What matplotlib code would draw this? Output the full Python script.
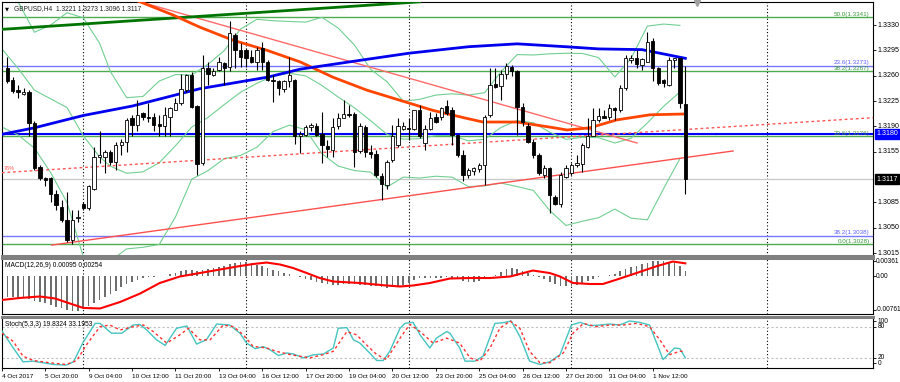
import matplotlib.pyplot as plt

# ---- candles (GBPUSD H4), bar index 0 = 4 Oct 16:00 ----
opens = [1.3270, 1.3254, 1.3240, 1.3235, 1.3238, 1.3194, 1.3134, 1.3118, 1.3118, 1.3097,
         1.3079, 1.3060, 1.3033, 1.3063, 1.3083, 1.3077, 1.3104, 1.3147, 1.3148, 1.3155,
         1.3141, 1.3164, 1.3169, 1.3201, 1.3192, 1.3208, 1.3203, 1.3203, 1.3193, 1.3190,
         1.3203, 1.3213, 1.3222, 1.3240, 1.3261, 1.3218, 1.3139, 1.3270, 1.3261, 1.3268,
         1.3277, 1.3272, 1.3316, 1.3296, 1.3296, 1.3286, 1.3279, 1.3298, 1.3279, 1.3254,
         1.3252, 1.3241, 1.3252, 1.3254, 1.3176, 1.3178, 1.3189, 1.3190, 1.3180, 1.3163,
         1.3158, 1.3190, 1.3202, 1.3207, 1.3207, 1.3156, 1.3189, 1.3155, 1.3152, 1.3122,
         1.3109, 1.3143, 1.3164, 1.3187, 1.3188, 1.3186, 1.3213, 1.3167, 1.3187, 1.3203,
         1.3203, 1.3218, 1.3213, 1.3178, 1.3150, 1.3123, 1.3129, 1.3131, 1.3137, 1.3206,
         1.3249, 1.3246, 1.3263, 1.3272, 1.3267, 1.3217, 1.3190, 1.3169, 1.3150, 1.3123,
         1.3132, 1.3093, 1.3083, 1.3120, 1.3125, 1.3137, 1.3138, 1.3162, 1.3176, 1.3199,
         1.3204, 1.3203, 1.3215, 1.3213, 1.3243, 1.3282, 1.3285, 1.3275, 1.3279, 1.3308,
         1.3270, 1.3254, 1.3247, 1.3282, 1.3284, 1.3221]
highs = [1.3286, 1.3258, 1.3247, 1.3243, 1.3240, 1.3197, 1.3136, 1.3120, 1.3120, 1.3102,
         1.3088, 1.3100, 1.3074, 1.3074, 1.3086, 1.3109, 1.3162, 1.3183, 1.3157, 1.3157,
         1.3169, 1.3173, 1.3201, 1.3206, 1.3226, 1.3210, 1.3222, 1.3208, 1.3206, 1.3217,
         1.3217, 1.3229, 1.3263, 1.3262, 1.3265, 1.3219, 1.3289, 1.3279, 1.3270, 1.3286,
         1.3279, 1.3335, 1.3319, 1.3305, 1.3298, 1.3296, 1.3300, 1.3307, 1.3282, 1.3261,
         1.3254, 1.3254, 1.3286, 1.3256, 1.3183, 1.3192, 1.3195, 1.3194, 1.3210, 1.3171,
         1.3201, 1.3208, 1.3226, 1.3219, 1.3210, 1.3194, 1.3192, 1.3164, 1.3157, 1.3125,
         1.3143, 1.3192, 1.3201, 1.3196, 1.3201, 1.3213, 1.3220, 1.3192, 1.3210, 1.3208,
         1.3217, 1.3226, 1.3217, 1.3180, 1.3157, 1.3132, 1.3134, 1.3139, 1.3206, 1.3270,
         1.3270, 1.3268, 1.3277, 1.3275, 1.3268, 1.3222, 1.3194, 1.3173, 1.3153, 1.3137,
         1.3134, 1.3095, 1.3127, 1.3137, 1.3139, 1.3150, 1.3167, 1.3201, 1.3215, 1.3215,
         1.3213, 1.3221, 1.3217, 1.3247, 1.3289, 1.3289, 1.3296, 1.3285, 1.3321, 1.3312,
         1.3272, 1.3256, 1.3286, 1.3285, 1.3285, 1.3273]
lows = [1.3250, 1.3236, 1.3229, 1.3234, 1.3176, 1.3130, 1.3116, 1.3107, 1.3086, 1.3074,
        1.3058, 1.3030, 1.3028, 1.3058, 1.3075, 1.3075, 1.3102, 1.3139, 1.3125, 1.3136,
        1.3130, 1.3150, 1.3155, 1.3176, 1.3183, 1.3199, 1.3196, 1.3183, 1.3176, 1.3176,
        1.3176, 1.3213, 1.3220, 1.3238, 1.3215, 1.3123, 1.3137, 1.3247, 1.3260, 1.3266,
        1.3247, 1.3266, 1.3270, 1.3272, 1.3272, 1.3277, 1.3268, 1.3268, 1.3252, 1.3224,
        1.3233, 1.3238, 1.3245, 1.3166, 1.3153, 1.3176, 1.3183, 1.3176, 1.3139, 1.3148,
        1.3148, 1.3187, 1.3201, 1.3203, 1.3134, 1.3153, 1.3148, 1.3146, 1.3120, 1.3088,
        1.3104, 1.3141, 1.3162, 1.3185, 1.3171, 1.3185, 1.3174, 1.3157, 1.3185, 1.3194,
        1.3199, 1.3206, 1.3164, 1.3148, 1.3114, 1.3118, 1.3123, 1.3127, 1.3109, 1.3203,
        1.3243, 1.3226, 1.3256, 1.3259, 1.3178, 1.3190, 1.3167, 1.3146, 1.3123, 1.3118,
        1.3070, 1.3081, 1.3079, 1.3118, 1.3123, 1.3134, 1.3127, 1.3160, 1.3176, 1.3196,
        1.3201, 1.3199, 1.3199, 1.3210, 1.3240, 1.3277, 1.3270, 1.3268, 1.3279, 1.3252,
        1.3247, 1.3245, 1.3246, 1.3270, 1.3215, 1.3096]
closes = [1.3252, 1.3239, 1.3238, 1.3237, 1.3194, 1.3132, 1.3118, 1.3116, 1.3097, 1.3081,
          1.3060, 1.3033, 1.3060, 1.3065, 1.3077, 1.3107, 1.3148, 1.3150, 1.3155, 1.3141,
          1.3164, 1.3169, 1.3199, 1.3192, 1.3206, 1.3203, 1.3202, 1.3192, 1.3190, 1.3206,
          1.3215, 1.3222, 1.3241, 1.3261, 1.3217, 1.3138, 1.3270, 1.3262, 1.3267, 1.3279,
          1.3270, 1.3319, 1.3296, 1.3286, 1.3284, 1.3279, 1.3296, 1.3279, 1.3254, 1.3252,
          1.3243, 1.3252, 1.3261, 1.3176, 1.3180, 1.3189, 1.3192, 1.3178, 1.3164, 1.3159,
          1.3189, 1.3201, 1.3207, 1.3206, 1.3155, 1.3190, 1.3154, 1.3152, 1.3123, 1.3110,
          1.3141, 1.3176, 1.3190, 1.3190, 1.3186, 1.3212, 1.3176, 1.3187, 1.3202, 1.3196,
          1.3216, 1.3208, 1.3178, 1.3150, 1.3123, 1.3130, 1.3132, 1.3137, 1.3203, 1.3247,
          1.3245, 1.3262, 1.3273, 1.3266, 1.3217, 1.3196, 1.3169, 1.3150, 1.3125, 1.3133,
          1.3095, 1.3083, 1.3123, 1.3132, 1.3137, 1.3139, 1.3164, 1.3176, 1.3199, 1.3204,
          1.3202, 1.3216, 1.3213, 1.3243, 1.3284, 1.3285, 1.3276, 1.3283, 1.3307, 1.3270,
          1.3250, 1.3250, 1.3282, 1.3284, 1.3222, 1.3117]

# moving averages, read at sample bars
blue_ma_x = [-1, 5, 14, 23, 35.5, 48, 54, 63, 74, 85, 94, 103, 109, 117, 125]
blue_ma_y = [1.3179, 1.3188, 1.3205, 1.3218, 1.3242, 1.3258, 1.3269, 1.3279, 1.3291,
             1.3300, 1.3304, 1.3300, 1.3297, 1.3296, 1.3284]
orange_ma_x = [22, 24.5, 30.5, 35.5, 41.6, 47.9, 54, 60, 66.3, 72.4, 78.5, 84.7, 87.7,
               93.9, 100, 103.2, 107.4, 112.4, 118.5, 124.5]
orange_ma_y = [1.3368, 1.3362, 1.3344, 1.3327, 1.3309, 1.3295, 1.3279, 1.3258, 1.3240,
               1.3226, 1.3212, 1.3201, 1.3196, 1.3196, 1.3189, 1.3185, 1.3188, 1.3199,
               1.3206, 1.3207]

# Bollinger bands (20) read at sample bars
bb_x = [-1, 2, 5, 8, 11, 14, 17, 19, 22, 25, 28, 31, 34, 37, 40, 43, 46, 49, 52, 55, 58,
        61, 64, 67, 70, 73, 76, 79, 82, 85, 88, 91, 94, 97, 100, 103, 106, 109, 112, 115,
        118, 121, 124]
bb_upper = [1.3405, 1.3362, 1.3320, 1.3330, 1.3347, 1.3340, 1.3305, 1.32658, 1.32296,
            1.32313, 1.32526, 1.32616, 1.32610, 1.32757, 1.32947, 1.33244, 1.33379, 1.33359,
            1.33349, 1.33340, 1.33406, 1.33258, 1.33023, 1.32687, 1.32517, 1.32247, 1.32273,
            1.32332, 1.32350, 1.32332, 1.32365, 1.32653, 1.32892, 1.32886, 1.32902, 1.32910,
            1.32907, 1.32850, 1.32582, 1.32840, 1.33285, 1.33313, 1.33295]
bb_mid = [1.3297, 1.3270, 1.3240, 1.3228, 1.3216, 1.3177, 1.3148, 1.31350, 1.31252,
          1.31271, 1.31397, 1.31632, 1.31890, 1.32023, 1.32201, 1.32371, 1.32495, 1.32594,
          1.32633, 1.32597, 1.32465, 1.32305, 1.32156, 1.31977, 1.31790, 1.31723, 1.31730,
          1.31772, 1.31774, 1.31700, 1.31722, 1.31885, 1.31980, 1.31950, 1.31820, 1.31721,
          1.31748, 1.31744, 1.31670, 1.31736, 1.31947, 1.32177, 1.32375]
bb_lower = [1.3189, 1.3178, 1.3160, 1.3126, 1.3085, 1.3010, 1.2991, 1.30042, 1.30207,
            1.30229, 1.30268, 1.30648, 1.31170, 1.31288, 1.31454, 1.31498, 1.31611, 1.31828,
            1.31917, 1.31854, 1.31523, 1.31352, 1.31289, 1.31267, 1.31062, 1.31199, 1.31186,
            1.31211, 1.31198, 1.31068, 1.31078, 1.31117, 1.31068, 1.31014, 1.30737, 1.30531,
            1.30589, 1.30638, 1.30757, 1.30632, 1.30609, 1.31041, 1.31454]

# trend lines (two points each: bar, price)
green_trend = ([-1, 76], [1.3324, 1.3362])
red_down = ([20, 116.1], [1.33716, 1.3167])
red_up = ([8.2, 133.8], [1.3026, 1.3156])
red_dotted = ([-1, 159.6], [1.3126, 1.3202])

# fibonacci levels
fib_green = [(50.0, 1.3341), (38.2, 1.3267), (23.6, 1.3176), (0.0, 1.3028)]
fib_blue = [(23.6, 1.3273), (38.2, 1.3038)]

price_ticks = [1.3330, 1.3295, 1.3260, 1.3225, 1.3190, 1.3155, 1.3085, 1.3050, 1.3015]

# MACD(12,26,9)
macd_hist = [-0.00415, -0.00415, -0.00435, -0.0045, -0.0047, -0.0050, -0.0052, -0.0055, -0.0058, -0.0062,
             -0.0065, -0.0069, -0.0071, -0.0071, -0.0065, -0.0060, -0.0055, -0.0048, -0.0043, -0.0037,
             -0.0030, -0.0023, -0.0016, -0.0011, -0.0007, -0.0004, -0.0002, -0.0001, 0.0000, 0.0001,
             0.0004, 0.0007, 0.0011, 0.0013, 0.0012, 0.0010, 0.0013, 0.0015, 0.0016, 0.0018,
             0.0020, 0.0024, 0.0027, 0.0029, 0.0028, 0.0026, 0.0023, 0.0020, 0.0016, 0.0013,
             0.0010, 0.0006, 0.0004, 0.0000, -0.0002, -0.0005, -0.0008, -0.0011, -0.0014, -0.0016,
             -0.0018, -0.0017, -0.0016, -0.0016, -0.0016, -0.0017, -0.0018, -0.0019, -0.0021, -0.0023,
             -0.0024, -0.0023, -0.0021, -0.0018, -0.0014, -0.0007, -0.0003, -0.0003, -0.0003, -0.0004,
             -0.0003, -0.0001, -0.0003, -0.0005, -0.0009, -0.0011, -0.0011, -0.0010, -0.0003, 0.0001,
             0.0003, 0.0008, 0.0014, 0.0016, 0.0014, 0.0011, 0.0007, 0.0003, -0.0001, -0.0005,
             -0.0012, -0.0016, -0.0019, -0.0021, -0.0021, -0.0018, -0.0014, -0.0010, -0.0005, -0.0001,
             0.0001, 0.0003, 0.0005, 0.0010, 0.0014, 0.0018, 0.0021, 0.0024, 0.0027, 0.0030,
             0.0031, 0.0030, 0.0029, 0.0027, 0.0020, 0.00095]
macd_sig_x = [-1, 2.3, 6, 8.8, 14, 17.1, 20.8, 24.5, 28.1, 31.8, 35.5, 39.2, 42.9, 45.3, 47.8,
              50.3, 52.7, 55.2, 57.6, 60.1, 65, 69.9, 72.4, 74.8, 77.9, 81.6, 85.3, 89, 92.7,
              96.9, 100, 101.9, 104.3, 107.4, 109.8, 112.4, 116, 119.8, 122.7, 125]
macd_sig_y = [-0.0048, -0.0044, -0.0041, -0.0045, -0.0064, -0.0065, -0.0052, -0.0035, -0.0014,
              -0.0001, 0.0006, 0.0013, 0.0020, 0.0024, 0.0027, 0.0023, 0.0016, 0.0006, -0.0004,
              -0.0011, -0.0014, -0.0019, -0.0021, -0.0019, -0.0014, -0.0005, -0.0004, -0.0004,
              -0.0001, 0.0011, 0.0006, -0.0001, -0.0014, -0.0016, -0.0016, -0.0007, 0.0006,
              0.0020, 0.0029, 0.00254]
macd_labels = ["0.00361", "0.00", "-0.00761"]
macd_label_at = [0.0030, 0.0, -0.0068]

# Stochastic(5,3,3)
stoch_k_x = [-1, 1.1, 2.9, 4.8, 6.6, 8.5, 10.9, 12.2, 14, 16.2, 17.1, 19.2, 21.1, 23.2, 24.4,
             25.7, 27.5, 29.1, 31.2, 33.1, 34.9, 36.7, 38.6, 41, 42.9, 44.1, 45.7, 47.2, 48.4,
             50, 51.5, 52.7, 54.6, 56.4, 58.3, 60.1, 61, 62.6, 63.8, 65, 66.2, 68.1, 69.3, 70.5,
             72.4, 73.3, 74.8, 76.1, 77.9, 79.1, 81, 81.6, 83.4, 84.4, 86.2, 87.7, 89.9, 91.4,
             92.9, 94.5, 96.3, 98.2, 100, 101.9, 104, 105.6, 107.4, 109.2, 111.1, 112.9, 114.7,
             116.6, 118.4, 120.9, 123, 124, 125]
stoch_k_y = [72.7, 39.2, 12.1, 13.4, 10.2, 6.9, 5.7, 12.1, 50.8, 87.5, 87.5, 68.2, 68.2, 84.3,
             85.6, 74.6, 55.3, 44.3, 77.9, 82.4, 46.9, 55.3, 86.2, 84.3, 68.2, 48.9, 37.9, 41.8,
             36.0, 24.4, 29.5, 27.6, 19.8, 25.7, 27.6, 39.2, 77.9, 79.2, 55.3, 48.9, 36.0, 14.7,
             14.7, 32.7, 77.9, 87.5, 89.5, 65.0, 39.2, 58.5, 71.4, 68.2, 39.2, 13.4, 13.4, 23.1,
             87.5, 88.8, 92.1, 61.7, 13.4, 6.9, 12.1, 26.3, 84.3, 89.5, 83.0, 84.3, 86.2, 84.3,
             92.1, 89.5, 84.3, 16.6, 39.2, 37.9, 19.8]
stoch_d_x = [-1, 1.1, 2.9, 4.8, 7.9, 10.9, 12.8, 14.6, 17.1, 18.9, 20.8, 23.2, 25.1, 26.9, 29.4,
             31.8, 33.4, 35.5, 37.4, 39.8, 41.7, 43.5, 45.3, 47.8, 49.6, 52.1, 53.9, 55.8, 58.3,
             60.1, 62.6, 64.4, 66.2, 68.1, 69.9, 72.4, 74.2, 76.1, 78.5, 81, 83.4, 85.3, 87.1,
             89, 90.8, 92.7, 94.5, 96.3, 98.2, 100, 102.5, 104.3, 106.2, 108.6, 111.1, 113.5,
             116, 118.4, 120.3, 122.1, 124, 125]
stoch_d_y = [68.2, 52.1, 23.1, 14.7, 10.2, 6.9, 14.7, 45.6, 81.1, 84.3, 74.6, 81.1, 84.3, 71.4,
             48.9, 65.0, 77.9, 55.3, 55.3, 84.3, 81.1, 65.0, 42.4, 39.2, 32.7, 26.3, 23.1, 19.8,
             26.3, 32.7, 71.4, 65.0, 45.6, 26.3, 16.6, 58.5, 85.6, 71.4, 48.9, 58.5, 48.9, 19.8,
             13.4, 39.2, 77.9, 92.1, 77.9, 32.7, 10.2, 10.2, 29.5, 68.2, 87.5, 81.1, 84.3, 84.3,
             87.5, 81.1, 55.3, 26.3, 32.7, 33.2]
stoch_labels = ["100", "80", "20", "0"]
stoch_label_at = [92, 80.5, 20.5, 9]

time_labels = ["4 Oct 2017", "5 Oct 20:00", "9 Oct 04:00", "10 Oct 12:00", "11 Oct 20:00",
               "13 Oct 04:00", "16 Oct 12:00", "17 Oct 20:00", "19 Oct 04:00", "20 Oct 12:00",
               "23 Oct 20:00", "25 Oct 04:00", "26 Oct 12:00", "27 Oct 20:00", "31 Oct 04:00",
               "1 Nov 12:00"]
time_label_pos = [-0.98, 7, 15, 23, 31, 39, 47, 55, 63, 71, 79, 87, 95, 103, 111, 119]
separators = [14, 44, 74, 104, 140]

# ---- layout ----
W, H = 900, 382
plt.rcParams["font.family"] = ["Liberation Sans", "DejaVu Sans"]
fig = plt.figure(figsize=(W / 100, H / 100), dpi=100)
fig.patch.set_facecolor("white")


def box(x0, y0, x1, y1):
    return [x0 / W, 1 - y1 / H, (x1 - x0) / W, (y1 - y0) / H]


ax = fig.add_axes(box(2, 2, 873, 256))
axm = fig.add_axes(box(2, 258, 873, 314))
axs = fig.add_axes(box(2, 317, 873, 368))
XL = (-0.98, 159.6)
AXFS = 5.1

for a in (ax, axm, axs):
    a.set_xlim(*XL)
    for s in a.spines.values():
        s.set_linewidth(0.8)
        s.set_color("black")
    a.yaxis.tick_right()
    a.tick_params(axis="y", length=2.5, width=0.6, labelright=False)
    for sx in separators:
        a.axvline(sx, color="black", lw=0.8, ls=(0, (1, 2)), zorder=1)
for a in (axm, axs):
    a.spines["top"].set_color("#808080")
    a.spines["top"].set_linewidth(2.2)
ax.spines["bottom"].set_color("#808080")
ax.spines["bottom"].set_linewidth(2.2)
ax.set_xticks([])
axm.set_xticks([])

# ---- main price panel ----
ax.set_ylim(1.30109, 1.33618)
ax.set_yticks(price_ticks)
ytr = ax.get_yaxis_transform()
for p in price_ticks:
    ax.text(1.005, p, "%.4f" % p, transform=ytr, fontsize=AXFS, va="center", ha="left",
            clip_on=False)

for lvl, p in fib_green:
    ax.axhline(p, color="#4dac4d", lw=1.0, zorder=2)
    ax.text(XL[1] - 0.6, p, "%.1f(%.4f)" % (lvl, p), color="#3c9a3c", fontsize=4.5,
            ha="right", va="bottom")
for lvl, p in fib_blue:
    ax.axhline(p, color="#7777ff", lw=1.0, zorder=2)
    ax.text(XL[1] - 0.6, p + 0.0002, "%.1f(%.4f)" % (lvl, p), color="#6060ff",
            fontsize=4.5, ha="right", va="bottom")
ax.axhline(1.3180, color="#0000ff", lw=1.5, zorder=2)
ax.axhline(1.3117, color="#c8c8c8", lw=0.9, zorder=1)

for band in (bb_upper, bb_mid, bb_lower):
    ax.plot(bb_x, band, color="#72cf92", lw=0.8, zorder=2.5)

ax.plot(*red_dotted, color="#ff5555", lw=1.0, ls=(0, (2, 2)), zorder=3)
ax.text(-0.6, 1.3129, "76%", color="#ff5555", fontsize=4.0, va="bottom", ha="left")
ax.plot(*red_down, color="#ff6a6a", lw=1.0, zorder=3)
ax.plot(*red_up, color="#ff5050", lw=1.0, zorder=3)
ax.plot(*green_trend, color="#007400", lw=2.0, zorder=3)
ax.plot(orange_ma_x, orange_ma_y, color="#ff4500", lw=2.0, zorder=4)
ax.plot(blue_ma_x, blue_ma_y, color="#0000ee", lw=2.0, zorder=4)

n = len(closes)
bars = list(range(n))
ax.vlines(bars, lows, highs, color="black", lw=0.8, zorder=5)
bottoms = [min(o, c) for o, c in zip(opens, closes)]
heights = [max(abs(c - o), 0.00004) for o, c in zip(opens, closes)]
faces = ["white" if c >= o else "black" for o, c in zip(opens, closes)]
ax.bar(bars, heights, bottom=bottoms, width=0.62, color=faces, edgecolor="black",
       linewidth=0.6, zorder=6)

ax.text(0.0135, 0.988, "GBPUSD,H4  1.3221 1.3273 1.3096 1.3117", transform=ax.transAxes,
        fontsize=4.8, va="top", ha="left", color="#222222")
ax.text(0.003, 0.984, "\u25bc", transform=ax.transAxes, fontsize=3.8, va="top", ha="left",
        family="DejaVu Sans")
# chart shift marker
ax.plot([127.1], [1.3360], marker="v", ms=4, color="#a0a0a0", clip_on=False, zorder=7)

for p, fc in ((1.3180, "#0000ff"), (1.3117, "black")):
    ax.text(1.004, p, "%.4f" % p, transform=ytr, fontsize=AXFS, color="white",
            va="center", ha="left", clip_on=False,
            bbox=dict(boxstyle="square,pad=0.2", fc=fc, ec=fc))

# ---- MACD panel ----
axm.set_ylim(-0.00761, 0.00361)
axm.bar(bars, macd_hist, width=0.3, color="#6e6e6e", zorder=3)
axm.plot(macd_sig_x, macd_sig_y, color="#ff0000", lw=1.5, zorder=4)
axm.set_yticks(macd_label_at)
mtr = axm.get_yaxis_transform()
for v, t in zip(macd_label_at, macd_labels):
    axm.text(1.003, v, t, transform=mtr, fontsize=4.7, va="center", ha="left", clip_on=False)
axm.text(0.004, 0.93, "MACD(12,26,9) 0.00095 0.00254", transform=axm.transAxes,
         fontsize=4.8, va="top", ha="left")

# ---- Stochastic panel ----
axs.set_ylim(0, 100)
for lv in (20, 80):
    axs.axhline(lv, color="#c0c0c0", lw=0.8, ls=(0, (2, 2)), zorder=1)
axs.plot(stoch_k_x, stoch_k_y, color="#45c4c0", lw=1.0, zorder=3)
axs.plot(stoch_d_x, stoch_d_y, color="#ff3030", lw=1.0, ls=(0, (2, 2)), zorder=4)
axs.set_yticks(stoch_label_at)
st = axs.get_yaxis_transform()
for v, t in zip(stoch_label_at, stoch_labels):
    axs.text(1.005, v, t, transform=st, fontsize=4.7, va="center", ha="left", clip_on=False)
axs.text(0.004, 0.93, "Stoch(5,3,3) 19.8324 33.1953", transform=axs.transAxes,
         fontsize=4.8, va="top", ha="left")
axs.set_xticks(time_label_pos)
axs.set_xticklabels(time_labels)
axs.tick_params(axis="x", length=2.5, width=0.6, labelsize=4.6, pad=1.5)
for lab in axs.get_xticklabels():
    lab.set_ha("left")

fig.savefig("out.png", dpi=100, facecolor="white")
